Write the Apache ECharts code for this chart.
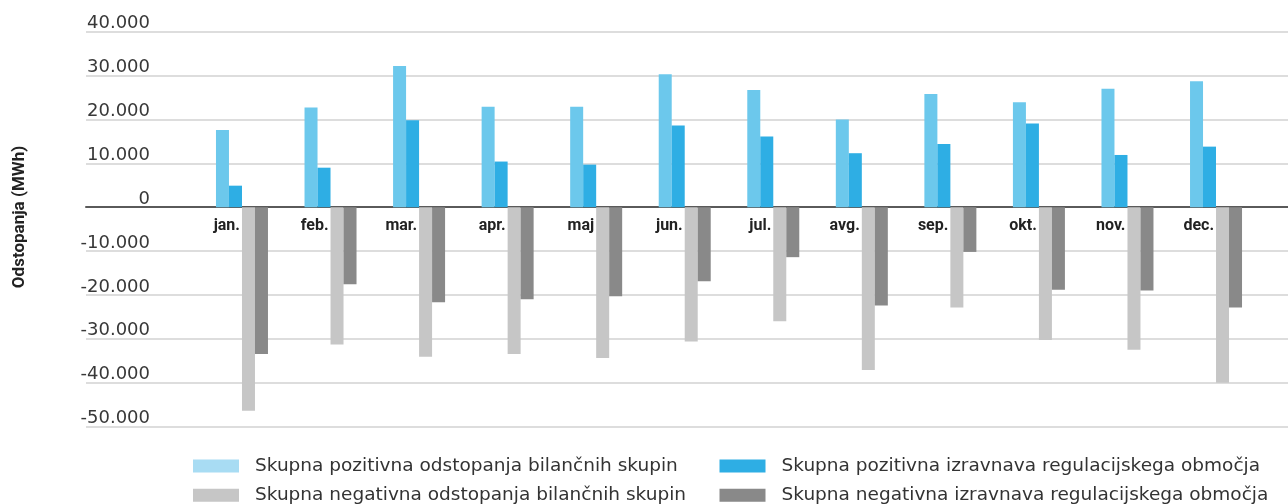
<!DOCTYPE html>
<html>
<head>
<meta charset="utf-8">
<script src="https://cdn.jsdelivr.net/npm/echarts@6/dist/echarts.min.js"></script>
<style>
  html, body { margin: 0; padding: 0; background: #ffffff; }
  #chart { width: 1288px; height: 504px; }
</style>
</head>
<body>
<div id="chart"></div>
<script>
// ---- data ----
const categories = ['jan.', 'feb.', 'mar.', 'apr.', 'maj', 'jun.', 'jul.', 'avg.', 'sep.', 'okt.', 'nov.', 'dec.'];
const seriesNames = [
  'Skupna pozitivna odstopanja bilančnih skupin',
  'Skupna pozitivna izravnava regulacijskega območja',
  'Skupna negativna odstopanja bilančnih skupin',
  'Skupna negativna izravnava regulacijskega območja'
];
const posBalance    = [17600, 22700, 32200, 22900, 22900, 30300, 26700, 20000, 25800, 23900, 27000, 28700];
const posRegulation = [4900, 9000, 19800, 10400, 9700, 18600, 16100, 12300, 14400, 19100, 11900, 13800];
const negBalance    = [-46400, -31300, -34100, -33500, -34400, -30600, -26000, -37100, -22900, -30300, -32500, -40000];
const negRegulation = [-33500, -17600, -21700, -21000, -20300, -16900, -11400, -22400, -10200, -18800, -19000, -22900];
const yTickValues = [-50000, -40000, -30000, -20000, -10000, 0, 10000, 20000, 30000, 40000];
const yTickLabels = ['-50.000', '-40.000', '-30.000', '-20.000', '-10.000', '0', '10.000', '20.000', '30.000', '40.000'];
const yAxisTitle = 'Odstopanja (MWh)';

// ---- chart ----
const colors = ['#6cc8ec', '#2eaee4', '#c6c6c6', '#898989'];
const legendColors = ['#a8dcf3', '#2eaee4', '#c6c6c6', '#898989'];
const values = [posBalance, posRegulation, negBalance, negRegulation];

const chart = echarts.init(document.getElementById('chart'), null, { renderer: 'canvas' });

const H = 504;
const gridTop = 31.7, gridBottom = 77.5;
const yMin = -50000, yMax = 40000, yInt = 10000;
const zeroY = gridTop + (H - gridTop - gridBottom) * (yMax / (yMax - yMin));
const catOffset = -((H - gridBottom) - zeroY);

// legend slots: [left, top] for each series
const legendPos = [[193, 456], [719.5, 456], [193, 485.3], [719.5, 485.3]];

const option = {
  animation: false,
  backgroundColor: '#ffffff',
  grid: [
    { left: 86, right: 0, top: gridTop, bottom: gridBottom },
    { left: 197.7, right: 27.7, top: gridTop, bottom: gridBottom }
  ],
  xAxis: [
    {
      gridIndex: 0, type: 'value', min: 0, max: 1,
      axisLine: { show: true, onZero: true, lineStyle: { color: '#5a5a5a', width: 2 } },
      axisTick: { show: false }, axisLabel: { show: false }, splitLine: { show: false }
    },
    {
      gridIndex: 1, type: 'category', data: categories,
      boundaryGap: true, position: 'bottom', offset: catOffset,
      axisLine: { show: false, onZero: false },
      axisTick: { show: false },
      axisLabel: {
        interval: 0, margin: 11, align: 'right', padding: [0, 2, 0, 0],
        fontFamily: 'Roboto', fontWeight: 'bold', fontSize: 16, color: '#222222'
      }
    }
  ],
  yAxis: [
    {
      gridIndex: 0, type: 'value', min: yMin, max: yMax, interval: yInt,
      axisLine: { show: false }, axisTick: { show: false }, axisLabel: { show: false },
      splitLine: { show: true, lineStyle: { color: '#d2d2d2', width: 1.5 } }
    },
    {
      gridIndex: 1, type: 'value', min: yMin, max: yMax, interval: yInt,
      axisLine: { show: false }, axisTick: { show: false },
      splitLine: { show: false },
      axisLabel: {
        margin: 47.7, verticalAlign: 'bottom', lineHeight: 16, padding: 0,
        fontFamily: 'DejaVu Sans', fontSize: 18, color: '#383838',
        formatter: function (v) {
          const i = yTickValues.indexOf(v);
          return i >= 0 ? yTickLabels[i] : '';
        }
      }
    }
  ],
  legend: seriesNames.map(function (name, i) {
    return {
      left: legendPos[i][0], top: legendPos[i][1], orient: 'horizontal', padding: 0,
      itemWidth: 46, itemHeight: 13, icon: 'rect', selectedMode: false,
      data: [{ name: name, itemStyle: { color: legendColors[i] } }],
      textStyle: { fontFamily: 'DejaVu Sans', fontSize: 18.5, color: '#333333', lineHeight: 20, padding: [0, 0, 0, 11] }
    };
  }),
  graphic: [
    {
      type: 'text', x: 20, y: 217, rotation: Math.PI / 2,
      style: {
        text: yAxisTitle, font: 'bold 17px Roboto', fill: '#222222',
        align: 'center', verticalAlign: 'middle'
      }
    }
  ],
  series: seriesNames.map(function (name, i) {
    return {
      name: name, type: 'bar', xAxisIndex: 1, yAxisIndex: 1,
      data: values[i], barWidth: 13, barGap: '0%',
      itemStyle: { color: colors[i] }
    };
  })
};

chart.setOption(option);
</script>
</body>
</html>
